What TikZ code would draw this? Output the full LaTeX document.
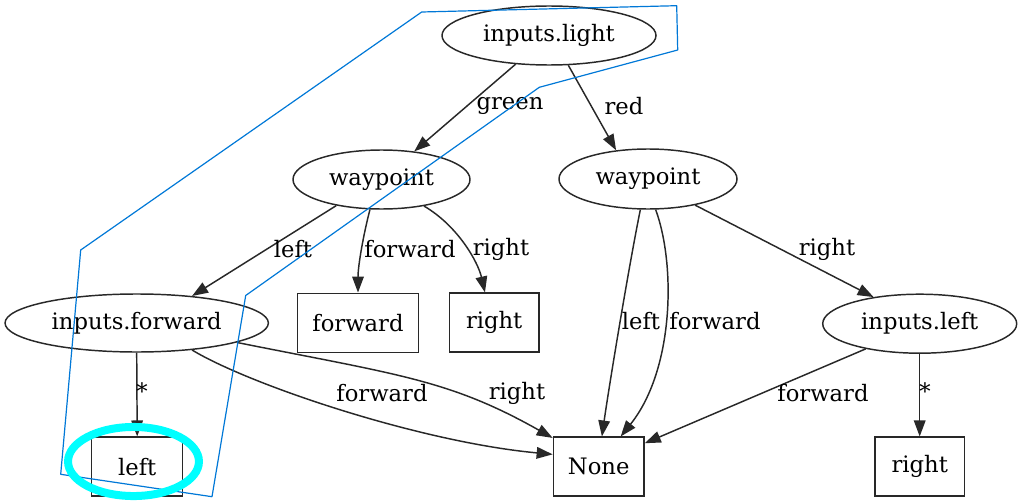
\documentclass[tikz,border=0pt]{standalone}
\usepackage{fontspec}
\setmainfont{DejaVu Serif}
\usetikzlibrary{shapes.geometric,arrows.meta}
\definecolor{polyblue}{RGB}{0,120,215}
\definecolor{hlcyan}{RGB}{0,255,255}
\definecolor{ink}{RGB}{40,40,40}
\begin{document}
\begin{tikzpicture}[x=0.75pt,y=-0.75pt,
  every node/.style={font=\fontsize{17}{20}\selectfont},
  ell/.style={draw=ink, line width=1.1pt, ellipse, inner sep=0pt},
  box/.style={draw=ink, line width=1.1pt, rectangle, inner sep=0pt, minimum height=44.25pt},
  edge/.style={draw=ink, line width=1.1pt, -{Triangle[length=12pt,width=8.7pt]}},
  lbl/.style={inner sep=0pt, text=black}
]
\useasboundingbox (0,0) rectangle (1020,503);

% nodes
\node[ell, minimum width=160.5pt, minimum height=44.25pt] (il) at (549,35.5) {inputs.light};
\node[ell, minimum width=132.75pt, minimum height=44.25pt] (wl) at (381.5,179.5) {waypoint};
\node[ell, minimum width=133.5pt, minimum height=45pt] (wr) at (648,179) {waypoint};
\node[ell, minimum width=197.5pt, minimum height=43.5pt] (if) at (136.7,323) {inputs.forward};
\node[ell, minimum width=145.5pt, minimum height=44.25pt] (ilft) at (919.7,323.7) {inputs.left};
\node[box, minimum width=91pt] (fbox) at (358,322.8) {forward};
\node[box, minimum width=67.3pt] (rm) at (494.2,322.7) {right};
\node[box, minimum width=68.25pt] (lbox) at (137.2,466.7) {left};
\node[box, minimum width=68pt] (none) at (598.7,466.7) {None};
\node[box, minimum width=67pt] (rb) at (919.7,466.7) {right};

% edges
\draw[edge] (il) -- (wl);
\draw[edge] (il.-57) -- (wr.138);
\draw[edge] (wl.210) -- (if.26);
\draw[edge] (wl.-111) .. controls (364,232) and (358,265) .. (fbox.north);
\draw[edge] (wl.-32) .. controls (458,226) and (478,262) .. (rm.107);
\draw[edge] (wr.-104) .. controls (630,260) and (610,380) .. (none.84);
\draw[edge] (wr.-76) .. controls (676,265) and (674,370) .. (none.54);
\draw[edge] (wr.-29) -- (ilft.150);
\draw[edge] (if.south) -- (lbox.north);
\draw[edge] (if.-26) .. controls (250,385) and (420,442) .. (none.165.5);
\draw[edge] (if.-11.5) .. controls (400,375) and (450,380) .. (none.148);
\draw[edge] (ilft.205) -- (none.27);
\draw[edge] (ilft.south) -- (rb.north);

% edge labels
\node[lbl] (lg) at (510,106) {green};
\node[lbl] (lr) at (624,106) {red};
\node[lbl] (ll1) at (293,249) {left};
\node[lbl] (lf1) at (410,249) {forward};
\node[lbl] (lr1) at (501,249) {right};
\node[lbl] (ll2) at (641,321.5) {left};
\node[lbl] (lf2) at (715,321.5) {forward};
\node[lbl] (lr2) at (827,249) {right};
\node[lbl] (ls1) at (142,391) {*};
\node[lbl] (lf3) at (382,393) {forward};
\node[lbl] (lr3) at (517,393) {right};
\node[lbl] (lf4) at (823,393) {forward};
\node[lbl] (ls2) at (925,391) {*};

% annotations
\draw[polyblue, line width=0.9pt, line join=round]
  (421.7,12) -- (676.7,5.7) -- (677.7,50) -- (539.3,87.3) -- (245.7,295.5)
  -- (212,496.7) -- (60.7,474.3) -- (80.7,250) -- cycle;
\draw[hlcyan, line width=6pt] (133.5,461.5) ellipse [x radius=49.1pt, y radius=25.9pt];
\end{tikzpicture}
\end{document}
